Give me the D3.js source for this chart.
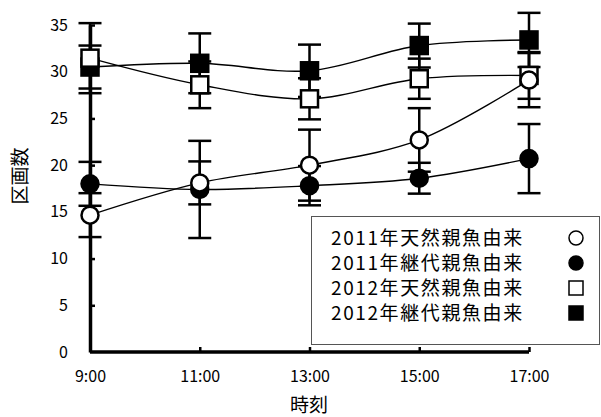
<!DOCTYPE html>
<html>
<head>
<meta charset="utf-8">
<script src="https://cdn.jsdelivr.net/npm/d3@7"></script>
<style>
	body { margin: 0; background: #fff; }
	svg { display: block; font-family: "Noto Sans CJK JP", sans-serif; }
</style>
</head>
<body>
<svg></svg>
<script>
const svgWidth = 601;
const svgHeight = 417;

// data
const times = ["9:00", "11:00", "13:00", "15:00", "17:00"];
const yTicks = [0, 5, 10, 15, 20, 25, 30, 35];
const seriesNames = ["2011年天然親魚由来", "2011年継代親魚由来", "2012年天然親魚由来", "2012年継代親魚由来"];

const wild2011 = [14.65, 18.1, 20.0, 22.7, 29.1];
const wild2011Err = [2.35, 2.3, 3.8, 3.4, 2.9];
const bred2011 = [18.0, 17.4, 17.8, 18.6, 20.7];
const bred2011Err = [2.35, 5.2, 2.1, 1.65, 3.7];
const wild2012 = [31.45, 28.6, 27.1, 29.25, 29.6];
const wild2012Err = [3.75, 2.5, 2.2, 2.15, 2.5];
const bred2012 = [30.5, 30.9, 30.1, 32.8, 33.4];
const bred2012Err = [2.3, 3.2, 2.8, 2.35, 2.9];

const series = [
	{ name: seriesNames[0], values: wild2011, err: wild2011Err, shape: "circle", fill: "#fff" },
	{ name: seriesNames[1], values: bred2011, err: bred2011Err, shape: "circle", fill: "#000" },
	{ name: seriesNames[2], values: wild2012, err: wild2012Err, shape: "square", fill: "#fff" },
	{ name: seriesNames[3], values: bred2012, err: bred2012Err, shape: "square", fill: "#000" }
];

const svg = d3.select("svg")
	.attr("width", svgWidth)
	.attr("height", svgHeight);

const xScale = d3.scalePoint()
	.domain(times)
	.range([90, 529]);
const yScale = d3.scaleLinear()
	.domain([0, 35])
	.range([352, 25]);

// error bars
series.forEach(s => {
	const g = svg.append("g")
		.attr("stroke", "#000")
		.attr("stroke-width", 2.5);
	s.values.forEach((v, i) => {
		const x = xScale(times[i]);
		g.append("line")
			.attr("x1", x).attr("x2", x)
			.attr("y1", yScale(v - s.err[i]))
			.attr("y2", yScale(v + s.err[i]));
		[v - s.err[i], v + s.err[i]].forEach(e => {
			g.append("line")
				.attr("x1", x - 11.5).attr("x2", x + 11.5)
				.attr("y1", yScale(e)).attr("y2", yScale(e));
		});
	});
});

// axes
const xAxis = d3.axisBottom(xScale)
	.tickSize(-5)
	.tickSizeOuter(0)
	.tickPadding(19);
const yAxis = d3.axisLeft(yScale)
	.tickValues(yTicks)
	.tickSize(-5)
	.tickSizeOuter(0)
	.tickPadding(22);

const gx = svg.append("g")
	.attr("transform", `translate(0, ${yScale(0)})`)
	.call(xAxis);
const gy = svg.append("g")
	.attr("transform", `translate(${xScale(times[0])}, 0)`)
	.call(yAxis);

[gx, gy].forEach(g => {
	g.select(".domain").attr("stroke", "#000").attr("stroke-width", 3.5);
	g.selectAll(".tick line").attr("stroke", "#000").attr("stroke-width", 2.5);
	g.selectAll(".tick text")
		.attr("fill", "#000")
		.attr("font-size", "16px")
		.attr("font-family", "Noto Sans CJK JP, sans-serif");
});
gx.select(".domain").attr("d", `M${xScale(times[0])},0H${xScale(times[4])}`);
gx.selectAll(".tick").filter(d => d === times[0]).select("line").remove();
gy.selectAll(".tick").filter(d => d === 0).select("line").remove();

// lines
const line = d3.line()
	.x((d, i) => xScale(times[i]))
	.y(d => yScale(d))
	.curve(d3.curveCatmullRom.alpha(0.5));

series.forEach(s => {
	svg.append("path")
		.attr("d", line(s.values))
		.attr("fill", "none")
		.attr("stroke", "#000")
		.attr("stroke-width", 1.4);
});

// markers (filled first, open on top)
function drawMarker(g, s, x, y, size, sw) {
	if (s.shape === "circle") {
		g.append("circle")
			.attr("cx", x).attr("cy", y).attr("r", size / 2)
			.attr("fill", s.fill).attr("stroke", "#000").attr("stroke-width", sw);
	} else {
		g.append("rect")
			.attr("x", x - size / 2).attr("y", y - size / 2)
			.attr("width", size).attr("height", size)
			.attr("fill", s.fill).attr("stroke", "#000").attr("stroke-width", sw);
	}
}

[series[3], series[2], series[1], series[0]].forEach(s => {
	const g = svg.append("g");
	s.values.forEach((v, i) => drawMarker(g, s, xScale(times[i]), yScale(v), 17, 2.5));
});

// axis titles
svg.append("text")
	.text("時刻")
	.attr("x", 309)
	.attr("y", 405)
	.attr("dy", "0.35em")
	.attr("font-size", "19px")
	.attr("text-anchor", "middle");

svg.append("text")
	.text("区画数")
	.attr("transform", "rotate(-90)")
	.attr("x", -176)
	.attr("y", 20)
	.attr("dy", "0.35em")
	.attr("font-size", "19px")
	.attr("text-anchor", "middle");

// legend
const legend = svg.append("g");
legend.append("rect")
	.attr("x", 311.5).attr("y", 216.5)
	.attr("width", 288).attr("height", 128)
	.attr("fill", "#fff")
	.attr("stroke", "#555")
	.attr("stroke-width", 1);

series.forEach((s, i) => {
	const cy = 238 + i * 25;
	legend.append("text")
		.text(s.name)
		.attr("x", 331)
		.attr("y", cy)
		.attr("dy", "0.36em")
		.attr("font-size", "19px")
		.attr("letter-spacing", "1.6px");
	drawMarker(legend, s, 576, cy, 14, 1.5);
});
</script>
</body>
</html>
